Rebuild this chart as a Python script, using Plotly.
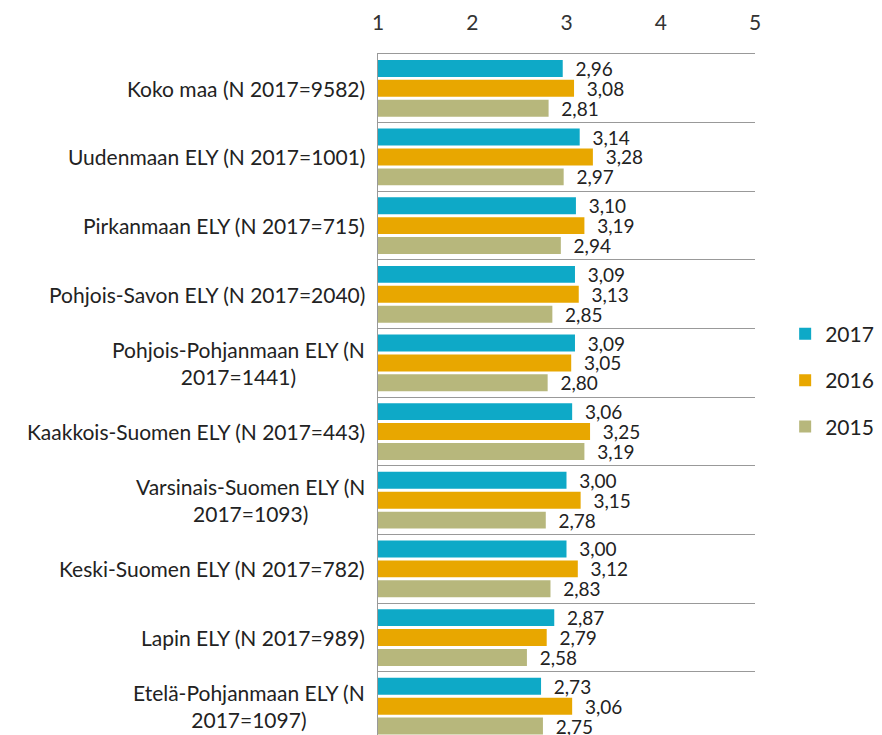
import plotly.graph_objects as go

categories = [
    "Koko maa (N 2017=9582)",
    "Uudenmaan ELY (N 2017=1001)",
    "Pirkanmaan ELY (N 2017=715)",
    "Pohjois-Savon ELY (N 2017=2040)",
    "Pohjois-Pohjanmaan ELY (N<br>2017=1441)",
    "Kaakkois-Suomen ELY (N 2017=443)",
    "Varsinais-Suomen ELY (N<br>2017=1093)",
    "Keski-Suomen ELY (N 2017=782)",
    "Lapin ELY (N 2017=989)",
    "Etelä-Pohjanmaan ELY (N<br>2017=1097)",
]
v2017 = [2.96, 3.14, 3.10, 3.09, 3.09, 3.06, 3.00, 3.00, 2.87, 2.73]
v2016 = [3.08, 3.28, 3.19, 3.13, 3.05, 3.25, 3.15, 3.12, 2.79, 3.06]
v2015 = [2.81, 2.97, 2.94, 2.85, 2.80, 3.19, 2.78, 2.83, 2.58, 2.75]
series = [("2017", v2017, "#0EA9C7"), ("2016", v2016, "#E8A700"), ("2015", v2015, "#B7B77C")]
x_ticks = [1, 2, 3, 4, 5]

FONT = "Lato, 'Open Sans', sans-serif"
fig = go.Figure()
for i, (name, vals, col) in enumerate(series):
    fig.add_trace(go.Bar(
        y=categories, x=vals, name=name, orientation="h",
        marker=dict(color=col, line=dict(width=0)),
        text=vals, texttemplate="\u00a0\u00a0%{x:.2f}", textposition="outside",
        constraintext="none",
        textfont=dict(size=19, color="#222", family=FONT),
        cliponaxis=False, legendgroup=name,
    ))

for c in categories:
    fig.add_annotation(x=0, xref="paper", y=c, yref="y", text=c, showarrow=False,
                       xanchor="right", align="center", xshift=-11,
                       font=dict(size=21, color="#222", family=FONT))

fig.update_layout(
    width=874, height=727,
    margin=dict(l=370, r=127, t=46, b=0),
    paper_bgcolor="white", plot_bgcolor="white",
    barmode="group", bargap=0.13, bargroupgap=0.15,
    separators=", ",
    font=dict(family=FONT, color="#222"),
    legend=dict(x=1.08, y=0.521, xanchor="left", yanchor="middle",
                font=dict(size=21, color="#222", family=FONT), tracegroupgap=16,
                itemwidth=30),
    xaxis=dict(side="top", range=[1, 5], tickvals=x_ticks, showgrid=False,
               zeroline=False, showline=True, linecolor="#999", linewidth=1,
               ticklabelstandoff=15, tickfont=dict(size=21, color="#333", family=FONT)),
    yaxis=dict(type="category", range=[9.42, -0.5], tickson="boundaries",
               showticklabels=False, showgrid=True, gridcolor="#999", gridwidth=1,
               showline=True, linecolor="#999", linewidth=1, ticks=""),
)
fig.write_html("out.html")
